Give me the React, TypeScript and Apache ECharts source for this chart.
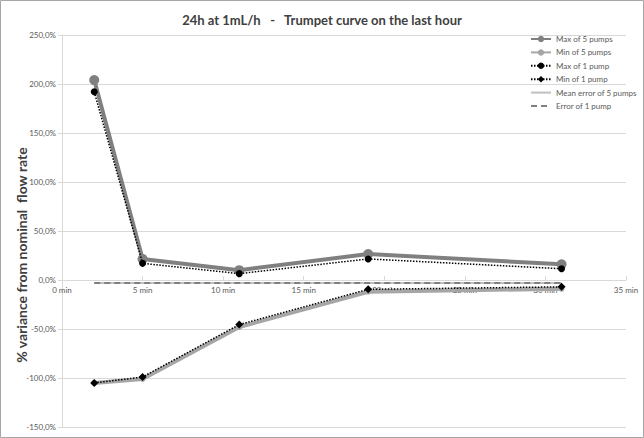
import React, { useEffect, useRef } from "react";
import * as echarts from "echarts";

const minutes = [2, 5, 11, 19, 31];
const max5 = [204, 21.5, 10, 26.5, 16];
const min5 = [-105, -101, -48, -12, -9];
const max1 = [192, 17, 6.5, 21.5, 11.5];
const min1 = [-105, -99, -45.5, -9.5, -7];
const mean5 = [-3, -3, -3, -3, -3];
const err1 = [-3, -3, -3, -3, -3];
const legendNames = [
  "Max of 5 pumps",
  "Min of 5 pumps",
  "Max of 1 pump",
  "Min of 1 pump",
  "Mean error of 5 pumps",
  "Error of 1 pump",
];
const NB = "\u00a0";
const titleText = `24h at 1mL/h${NB}${NB}${NB}-${NB}${NB}${NB}Trumpet curve on the last hour`;
const yName = `% variance from nominal${NB}${NB}flow rate`;

const pairs = (ys: number[]) => minutes.map((x, i) => [x, ys[i]]);
const FONT = "Lato";

export default function App() {
  const ref = useRef<HTMLDivElement>(null);
  useEffect(() => {
    const chart = echarts.init(ref.current!, null, { renderer: "svg" });
    chart.setOption({
      animation: false,
      backgroundColor: "#ffffff",
      textStyle: { fontFamily: FONT },
      title: {
        text: titleText,
        left: "center",
        top: 8,
        textStyle: { fontSize: 13, fontWeight: "bold", color: "#404040", fontFamily: FONT },
      },
      legend: {
        orient: "vertical",
        left: 530,
        top: 35,
        padding: 0,
        itemWidth: 20,
        itemHeight: 8,
        itemGap: 5.4,
        textStyle: { fontSize: 8, color: "#595959", fontFamily: FONT },
        data: legendNames.map((n, i) =>
          i >= 4 ? { name: n, itemStyle: { opacity: 0 } } : { name: n }
        ),
      },
      grid: { left: 62, right: 18, top: 35, bottom: 11, containLabel: false },
      xAxis: {
        type: "value",
        min: 0,
        max: 35,
        interval: 5,
        position: "bottom",
        offset: -147,
        axisLine: { onZero: false, lineStyle: { color: "#d9d9d9" } },
        axisTick: { show: true, inside: true, length: 4, lineStyle: { color: "#d9d9d9" } },
        axisLabel: {
          formatter: (v: number) => `${v} min`,
          fontSize: 8,
          color: "#595959",
          margin: 6,
        },
        splitLine: { show: false },
      },
      yAxis: {
        type: "value",
        min: -150,
        max: 250,
        interval: 50,
        axisLine: { show: true, onZero: false, lineStyle: { color: "#d9d9d9" } },
        axisTick: { show: true, length: 4, lineStyle: { color: "#d9d9d9" } },
        axisLabel: {
          formatter: (v: number) => `${v.toFixed(1).replace(".", ",")}%`,
          fontSize: 8,
          color: "#595959",
          margin: 6,
        },
        splitLine: { show: true, lineStyle: { color: "#d9d9d9", width: 1 } },
      },
      series: [
        {
          name: "Mean error of 5 pumps",
          type: "line",
          data: pairs(mean5),
          symbol: "none",
          lineStyle: { color: "#c0c0c0", width: 2 },
          itemStyle: { color: "#c0c0c0" },
          z: 1,
        },
        {
          name: "Error of 1 pump",
          type: "line",
          data: pairs(err1),
          symbol: "none",
          lineStyle: { color: "#808080", width: 2, type: [6, 4] },
          itemStyle: { color: "#808080" },
          z: 2,
        },
        {
          name: "Min of 5 pumps",
          type: "line",
          data: pairs(min5),
          symbol: "circle",
          symbolSize: 6,
          lineStyle: { color: "#a6a6a6", width: 4 },
          itemStyle: { color: "#a6a6a6" },
          z: 3,
        },
        {
          name: "Max of 5 pumps",
          type: "line",
          data: pairs(max5),
          symbol: "circle",
          symbolSize: 10,
          lineStyle: { color: "#808080", width: 4 },
          itemStyle: { color: "#808080" },
          z: 3,
        },
        {
          name: "Max of 1 pump",
          type: "line",
          data: pairs(max1),
          symbol: "circle",
          symbolSize: 7,
          lineStyle: { color: "#000000", width: 1.5, type: [1.5, 1.5] },
          itemStyle: { color: "#000000" },
          z: 4,
        },
        {
          name: "Min of 1 pump",
          type: "line",
          data: pairs(min1),
          symbol: "diamond",
          symbolSize: 8,
          lineStyle: { color: "#000000", width: 1.5, type: [1.5, 1.5] },
          itemStyle: { color: "#000000" },
          z: 4,
        },
      ],
      graphic: [
        {
          type: "rect",
          shape: { x: 0.5, y: 0.5, width: 643, height: 437 },
          style: { fill: "none", stroke: "#a6a6a6", lineWidth: 1 },
          silent: true,
        },
        {
          type: "text",
          x: 21,
          y: 255,
          rotation: Math.PI / 2,
          style: {
            text: yName,
            fontSize: 14,
            fontWeight: "bold",
            fontFamily: FONT,
            fill: "#404040",
            align: "center",
            verticalAlign: "middle",
          },
          silent: true,
        },
      ],
    });
    return () => chart.dispose();
  }, []);
  return (
    <div
      ref={ref}
      style={{ position: "absolute", left: 0, top: 0, width: 644, height: 438 }}
    />
  );
}
